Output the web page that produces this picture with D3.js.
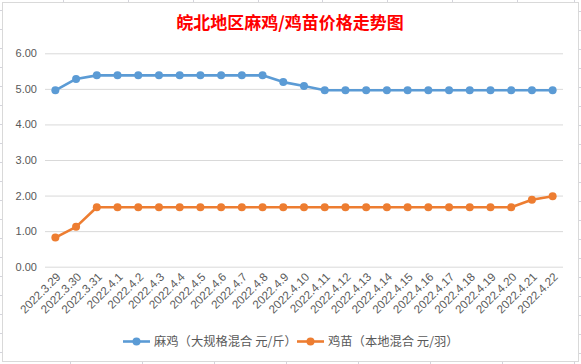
<!DOCTYPE html>
<html><head><meta charset="utf-8">
<script src="https://cdn.jsdelivr.net/npm/d3@7/dist/d3.min.js"></script>
<style>
html,body{margin:0;padding:0;background:#fff;}
svg{display:block;}
</style></head>
<body>
<script>
const categories = ["2022.3.29","2022.3.30","2022.3.31","2022.4.1","2022.4.2","2022.4.3","2022.4.4","2022.4.5","2022.4.6","2022.4.7","2022.4.8","2022.4.9","2022.4.10","2022.4.11","2022.4.12","2022.4.13","2022.4.14","2022.4.15","2022.4.16","2022.4.17","2022.4.18","2022.4.19","2022.4.20","2022.4.21","2022.4.22"];
const maji = [4.96,5.28,5.38,5.38,5.38,5.38,5.38,5.38,5.38,5.38,5.38,5.19,5.08,4.96,4.96,4.96,4.96,4.96,4.96,4.96,4.96,4.96,4.96,4.96,4.96];
const jimiao = [0.82,1.12,1.67,1.67,1.67,1.67,1.67,1.67,1.67,1.67,1.67,1.67,1.67,1.67,1.67,1.67,1.67,1.67,1.67,1.67,1.67,1.67,1.67,1.88,1.98];
const yTicks = [0,1,2,3,4,5,6];
const seriesNames = ["麻鸡（大规格混合 元/斤）","鸡苗（本地混合 元/羽）"];
const title = "皖北地区麻鸡/鸡苗价格走势图";

const W = 581, H = 364;
const svg = d3.select("body").append("svg").attr("width", W).attr("height", H);

// spreadsheet remnants around chart
const deco = svg.append("g").attr("stroke", "#d4d4dc").attr("stroke-width", 1);
d3.range(10.5, 364, 19).forEach(y => {
  deco.append("line").attr("x1", 0).attr("x2", 2).attr("y1", y).attr("y2", y);
  deco.append("line").attr("x1", 579).attr("x2", 581).attr("y1", y + 1).attr("y2", y + 1);
});
[63.5,128.5,193.5,258.5,322.5,387.5,452.5,517.5,574.5].forEach(x => deco.append("line").attr("x1", x).attr("x2", x).attr("y1", 0).attr("y2", 2));
[70.5,142.5,214.5,286.5,358.5,430.5,502.5,574.5].forEach(x => deco.append("line").attr("x1", x).attr("x2", x).attr("y1", 362).attr("y2", 364));

// chart border
svg.append("rect").attr("x", 2.5).attr("y", 2.5).attr("width", 576).attr("height", 359)
  .attr("fill", "#fff").attr("stroke", "#d9d9d9").attr("stroke-width", 1);

const x = d3.scaleBand().domain(categories).range([45, 563]);
const y = d3.scaleLinear().domain([0, 6]).range([266.7, 53.3]);

// title
svg.append("text").attr("x", 290).attr("y", 29).attr("text-anchor", "middle")
  .attr("fill", "#ff0000").attr("font-family", "'Noto Sans CJK SC'").attr("font-weight", "bold").attr("font-size", 17)
  .text(title);

// gridlines
const yAxis = d3.axisLeft(y).tickValues(yTicks).tickFormat(d3.format(".2f")).tickSize(-(563 - 45)).tickPadding(8);
const gy = svg.append("g").attr("transform", "translate(45,0)").call(yAxis);
gy.select(".domain").remove();
gy.selectAll(".tick line").attr("stroke", "#d9d9d9").attr("stroke-width", 1);
gy.selectAll(".tick text").attr("fill", "#595959").attr("font-family", "'Liberation Sans', Arial, sans-serif").attr("font-size", 11);

// x axis labels
const xAxis = d3.axisBottom(x).tickSize(0).tickPadding(0);
const gx = svg.append("g").attr("transform", "translate(0,266.7)").call(xAxis);
gx.select(".domain").remove();
gx.selectAll(".tick text")
  .attr("fill", "#595959").attr("font-family", "'Liberation Sans', Arial, sans-serif").attr("font-size", 11.6)
  .attr("text-anchor", "end").attr("dy", 0).attr("y", 0)
  .attr("transform", "translate(6,11) rotate(-45)");

const colors = ["#5b9bd5", "#ed7d31"];
const data = [maji, jimiao];
const line = d3.line().x((d, i) => x(categories[i]) + x.bandwidth() / 2).y(d => y(d));
data.forEach((s, k) => {
  svg.append("path").datum(s).attr("d", line).attr("fill", "none")
    .attr("stroke", colors[k]).attr("stroke-width", 2.6).attr("stroke-linejoin", "round");
  svg.append("g").selectAll("circle").data(s).join("circle")
    .attr("cx", (d, i) => x(categories[i]) + x.bandwidth() / 2)
    .attr("cy", d => y(d)).attr("r", 4).attr("fill", colors[k]);
});

// legend
const legendItems = [{x: 123, tx: 154}, {x: 297, tx: 328}];
legendItems.forEach((L, k) => {
  const g = svg.append("g");
  g.append("line").attr("x1", L.x).attr("x2", L.x + 27).attr("y1", 341.5).attr("y2", 341.5)
    .attr("stroke", colors[k]).attr("stroke-width", 2.6);
  g.append("circle").attr("cx", L.x + 13.5).attr("cy", 341.5).attr("r", 4).attr("fill", colors[k]);
  g.append("text").attr("x", L.tx).attr("y", 346).attr("fill", "#595959")
    .attr("font-family", "'Noto Sans CJK SC'").attr("font-size", 12.3).text(seriesNames[k]);
});
</script>
</body></html>
